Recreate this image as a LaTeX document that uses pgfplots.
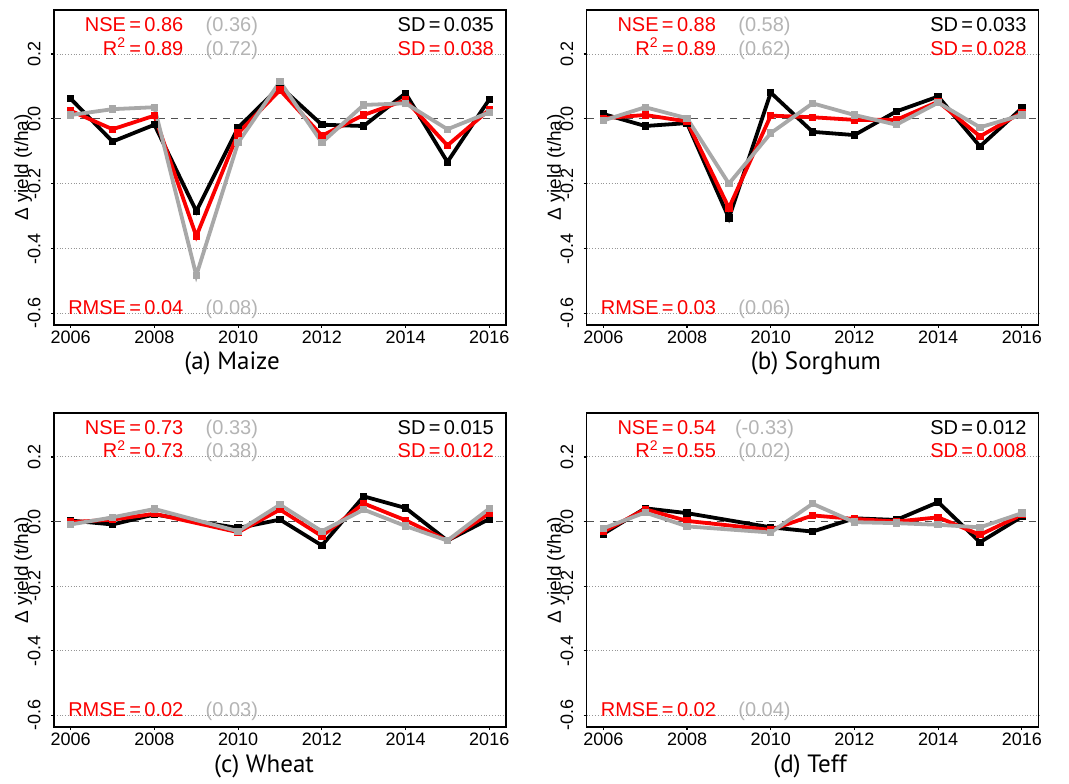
\documentclass[border=0pt]{standalone}
\usepackage{pgfplots}
\pgfplotsset{compat=1.18}
\usepackage{pgfplotstable}
\usepackage{fontspec}
\setmainfont{Liberation Sans}
\newfontfamily\capfont{PT Sans}

\definecolor{simgray}{RGB}{168,168,168}
\definecolor{txtgray}{RGB}{180,180,180}
\definecolor{zeroline}{RGB}{80,80,80}
\definecolor{gridgray}{RGB}{150,150,150}
\definecolor{simred}{RGB}{250,0,0}

% year, observed (black), model (red), model 2 (grey)
\pgfplotstableread{
year obs red gray
2006  0.062  0.025  0.012
2007 -0.070 -0.032  0.030
2008 -0.018  0.010  0.036
2009 -0.285 -0.362 -0.483
2010 -0.027 -0.044 -0.073
2011  0.100  0.089  0.115
2012 -0.018 -0.052 -0.073
2013 -0.022  0.012  0.043
2014  0.079  0.058  0.048
2015 -0.133 -0.082 -0.032
2016  0.060  0.028  0.020
}\maize

\pgfplotstableread{
year obs red gray
2006  0.015  0.002 -0.005
2007 -0.022  0.012  0.036
2008 -0.013 -0.008  0.002
2009 -0.306 -0.275 -0.200
2010  0.081  0.010 -0.044
2011 -0.040  0.005  0.048
2012 -0.050 -0.003  0.012
2013  0.023 -0.003 -0.018
2014  0.069  0.053  0.050
2015 -0.085 -0.054 -0.026
2016  0.033  0.020  0.012
}\sorghum

\pgfplotstableread{
year obs red gray
2006  0.003 -0.002 -0.009
2007 -0.009  0.006  0.013
2008  0.022  0.024  0.039
2010 -0.020 -0.033 -0.030
2011  0.006  0.037  0.052
2012 -0.074 -0.045 -0.030
2013  0.078  0.056  0.037
2014  0.042  0.004 -0.014
2015 -0.059 -0.059 -0.059
2016  0.008  0.025  0.040
}\wheat

\pgfplotstableread{
year obs red gray
2006 -0.038 -0.031 -0.021
2007  0.041  0.038  0.028
2008  0.026  0.002 -0.015
2010 -0.018 -0.026 -0.034
2011 -0.031  0.019  0.055
2012  0.010  0.008 -0.002
2013  0.005  0.000 -0.005
2014  0.060  0.013 -0.010
2015 -0.064 -0.041 -0.018
2016  0.015  0.021  0.026
}\teff

\pgfplotsset{
  yieldpanel/.style={
    scale only axis, width=226bp, height=157.5bp,
    xmin=2005.6, xmax=2016.4, ymin=-0.636, ymax=0.336,
    xtick={2006,2008,...,2016},
    xticklabels={2006,2008,2010,2012,2014,2016},
    ytick={-0.6,-0.4,-0.2,0.2},
    extra y ticks={0}, extra y tick style={grid=none},
    yticklabel={\pgfmathprintnumber[fixed, fixed zerofill, precision=1, assume math mode=true]{\tick}},
    tick align=outside, major tick length=1.5bp,
    tick style={black, line width=0.6bp},
    xtick pos=bottom, ytick pos=left,
    ymajorgrids, grid style={gridgray, densely dotted, line width=0.5bp},
    axis line style={line width=0.8bp},
    tick label style={font=\fontsize{9bp}{10bp}\selectfont},
    yticklabel style={rotate=90, anchor=south, inner sep=0pt},
    xticklabel style={anchor=north, inner sep=0pt},
    yticklabel shift=5bp, xticklabel shift=1.5bp,
    ylabel={Δ yield (t/ha)},
    ylabel style={at={(axis description cs:-0.068,0.5)}, anchor=center,
      inner sep=0pt, font=\fontsize{9.5bp}{11bp}\selectfont},
  },
  obsline/.style={black, line width=1.9bp, mark=square*, mark size=0.9bp},
  redline/.style={simred, line width=1.9bp, mark=square*, mark size=0.9bp},
  grayline/.style={simgray, line width=1.9bp, mark=square*, mark size=0.9bp},
}

\tikzset{anno/.style={inner sep=0pt, font=\fontsize{10bp}{12bp}\selectfont}}
% #1 NSE, #2 NSE grey, #3 R2, #4 R2 grey, #5 SD obs, #6 SD red, #7 RMSE, #8 RMSE grey
\newcommand\stats[8]{%
  \node[anno, simred, anchor=base east] at (axis cs:2008.7,0.269) {NSE\,=\,#1};
  \node[anno, txtgray, anchor=base] at (axis cs:2009.85,0.269) {(#2)};
  \node[anno, simred, anchor=base east] at (axis cs:2008.7,0.197) {R\textsuperscript{2}\,=\,#3};
  \node[anno, txtgray, anchor=base] at (axis cs:2009.85,0.197) {(#4)};
  \node[anno, black, anchor=base east] at (axis cs:2016.12,0.269) {SD\,=\,#5};
  \node[anno, simred, anchor=base east] at (axis cs:2016.12,0.197) {SD\,=\,#6};
  \node[anno, simred, anchor=base east] at (axis cs:2008.7,-0.603) {RMSE\,=\,#7};
  \node[anno, txtgray, anchor=base] at (axis cs:2009.85,-0.603) {(#8)};
}

\newcommand\series[1]{%
  \addplot[zeroline, line width=0.6bp, dash pattern=on 3.5bp off 3bp, forget plot]
    coordinates {(2005.6,0) (2016.4,0)};
  \addplot[obsline] table[x=year, y=obs] {#1};
  \addplot[redline] table[x=year, y=red] {#1};
  \addplot[grayline] table[x=year, y=gray] {#1};
}

\begin{document}
\begin{tikzpicture}
\useasboundingbox (0,0) rectangle (534.5bp,392bp);

\begin{axis}[yieldpanel, at={(27bp,229.5bp)}, anchor=south west]
  \series{\maize}
  \stats{0.86}{0.36}{0.89}{0.72}{0.035}{0.038}{0.04}{0.08}
\end{axis}

\begin{axis}[yieldpanel, at={(293.3bp,229.5bp)}, anchor=south west]
  \series{\sorghum}
  \stats{0.88}{0.58}{0.89}{0.62}{0.033}{0.028}{0.03}{0.06}
\end{axis}

\begin{axis}[yieldpanel, height=157bp, at={(27bp,28.5bp)}, anchor=south west]
  \series{\wheat}
  \stats{0.73}{0.33}{0.73}{0.38}{0.015}{0.012}{0.02}{0.03}
\end{axis}

\begin{axis}[yieldpanel, height=157bp, at={(293.3bp,28.5bp)}, anchor=south west]
  \series{\teff}
  \stats{0.54}{-0.33}{0.55}{0.02}{0.012}{0.008}{0.02}{0.04}
\end{axis}

\tikzset{subcap/.style={anchor=base, inner sep=0pt, font=\capfont\fontsize{12.5bp}{14bp}\selectfont}}
\node[subcap] at (116bp,207bp) {(a)\ Maize};
\node[subcap] at (408bp,207bp) {(b)\ Sorghum};
\node[subcap] at (132bp,6bp) {(c)\ Wheat};
\node[subcap] at (405bp,6bp) {(d)\ Teff};
\end{tikzpicture}
\end{document}
